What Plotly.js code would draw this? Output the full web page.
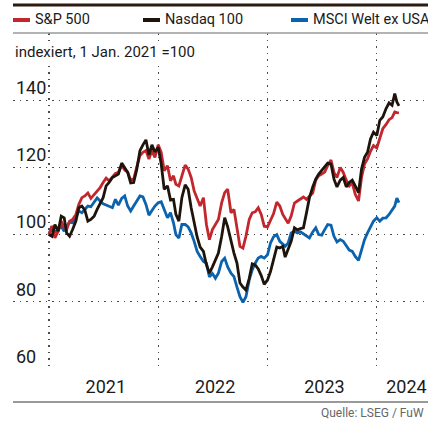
<!DOCTYPE html>
<html>
<head>
<meta charset="utf-8">
<script src="https://cdn.plot.ly/plotly-3.0.1.min.js"></script>
<style>
html,body{margin:0;padding:0;background:#fff;}
#chart{width:428px;height:427px;}
</style>
</head>
<body>
<div id="chart"></div>
<script>
const dates = [
'2021-01-01','2021-01-11','2021-01-21','2021-02-01','2021-02-11','2021-02-21','2021-03-01','2021-03-11','2021-03-21','2021-04-01','2021-04-11','2021-04-21',
'2021-05-01','2021-05-11','2021-05-21','2021-06-01','2021-06-11','2021-06-21','2021-07-01','2021-07-11','2021-07-21','2021-08-01','2021-08-11','2021-08-21',
'2021-09-01','2021-09-11','2021-09-21','2021-10-01','2021-10-11','2021-10-21','2021-11-01','2021-11-11','2021-11-21','2021-12-01','2021-12-11','2021-12-21',
'2022-01-01','2022-01-11','2022-01-21','2022-02-01','2022-02-11','2022-02-21','2022-03-01','2022-03-11','2022-03-21','2022-04-01','2022-04-11','2022-04-21',
'2022-05-01','2022-05-11','2022-05-21','2022-06-01','2022-06-11','2022-06-21','2022-07-01','2022-07-11','2022-07-21','2022-08-01','2022-08-11','2022-08-21',
'2022-09-01','2022-09-11','2022-09-21','2022-10-01','2022-10-11','2022-10-21','2022-11-01','2022-11-11','2022-11-21','2022-12-01','2022-12-11','2022-12-21',
'2023-01-01','2023-01-11','2023-01-21','2023-02-01','2023-02-11','2023-02-21','2023-03-01','2023-03-11','2023-03-21','2023-04-01','2023-04-11','2023-04-21',
'2023-05-01','2023-05-11','2023-05-21','2023-06-01','2023-06-11','2023-06-21','2023-07-01','2023-07-11','2023-07-21','2023-08-01','2023-08-11','2023-08-21',
'2023-09-01','2023-09-11','2023-09-21','2023-10-01','2023-10-11','2023-10-21','2023-11-01','2023-11-11','2023-11-21','2023-12-01','2023-12-11','2023-12-21',
'2024-01-01','2024-01-11','2024-01-21','2024-02-01','2024-02-11','2024-02-21','2024-03-01','2024-03-08','2024-03-15'
];
const sp500 = [
100,102.5,99,101,104,102,101.5,104,104.5,106,109,111,
111.5,112.4,110.8,112,113,114,115.5,116.8,116,117.2,118.2,118.5,
120.7,119.2,118.6,116.2,116.5,120,123.5,124.5,125,122.5,125,123,
126.7,124.5,119,120.5,116,117.5,115,114.5,117.5,120.7,119.5,117,
113,110.5,108.5,111,103,98.5,101.5,103,104.5,109.5,112.5,113.5,
106.5,107.5,101.5,96.5,96,99.5,104.5,106.5,106.8,108,106,102.5,
102.3,104.5,106.2,109.7,108.5,106,105,103.4,105.5,109.4,110,110.5,
111.2,110.5,111.5,112.4,116.2,117.5,118,118.6,120.5,122.2,118.5,117,
120,118.5,116.2,114.5,115.4,112,110,117,121,122.5,124.8,126.5,
125.8,129,131.5,132.8,134.2,134.8,136.5,136.3,136.2
];
const nasdaq100 = [
100,99.5,103,101,105.5,105,100.5,99.5,101.5,104,108,108.5,
107.3,104,104.5,105.5,107.5,109.5,111,114.5,115.5,117,117.5,118,
121.3,119.8,118.5,115.4,115.5,119.2,125,126.7,128.2,123.7,126.7,124.6,
126,121,113.5,114.5,110.3,110.5,106,104,111,114.8,113.5,108,
103.5,99.3,96.3,95,91,88.5,90.4,92.5,94.5,99.5,105,102.3,
98,94.5,91.5,85.6,84.4,83.5,87,91.3,91,89.8,87.8,85.2,
86.5,89,92.5,96.3,96,96.5,93.3,95.4,98,102,101.4,101.8,
102,106.4,111,114.2,116.5,118,119.2,120.3,121.3,121,116.5,114.2,
116.2,117,114.2,115.5,116.2,114.5,112.5,119.5,123,124.5,128.5,130.5,
129.5,134,135,137.5,139.2,138.5,142,139.5,138.3
];
const msciWorldExUsa = [
100,102.5,100.8,101.5,102.5,101,102.5,103.7,103.5,105.5,107,106.5,
107.5,108.5,108.3,109.5,110.9,110,109.2,108.8,108.5,108,110.5,108.8,
110.8,111.5,108.5,107,108.5,110,111.5,111.2,109,105.8,107.3,108.5,
109.5,109.8,107.5,105,106.5,103.5,100,99,103,103,102.3,100.5,
98,95,93.5,92,91.5,87.4,88.4,87,88.5,92,93,90.4,
88.5,87.5,84.4,81.5,79.8,81.5,86.5,89.5,91.5,93,93.5,93,
94,97.5,99.3,100,98,97,96.5,97.5,100.5,101,100.5,100.8,
100.2,99.5,99,100.8,102,100,99.8,101.5,103,102.8,99.5,97.8,
98.5,98,96.5,95.4,95,93.5,92.3,95.5,98.5,100.5,102.5,104,
105,104,104.9,105,106,107.3,108.5,110.9,109.5
];
const seriesNames = ['S&P 500','Nasdaq 100','MSCI Welt ex USA'];
const seriesColors = ['#c1272d','#1e140c','#0b63ae'];
const yTicks = [60,80,100,120,140];
const yearStarts = ['2021-01-01','2022-01-01','2023-01-01','2024-01-01'];
const yearLabelPos = ['2021-07-10','2022-07-10','2023-07-10','2024-04-09'];
const yearLabels = ['2021','2022','2023','2024'];

const FONT = 'Roboto, "Liberation Sans", sans-serif';
const W = 428, L = 13, R = 0, T = 33, B = 58, H = 427;
const pw = W - L - R, ph = H - T - B;
const px = x => (x - L) / pw;
const py = y => (H - B - y) / ph;

const allSeries = [sp500, nasdaq100, msciWorldExUsa];
const drawOrder = [2, 0, 1];
const traces = drawOrder.map(i => ({
  type: 'scatter', mode: 'lines', x: dates, y: allSeries[i], name: seriesNames[i],
  line: {color: seriesColors[i], width: 2.8, shape: 'linear'}, showlegend: false, hoverinfo: 'skip'
}));

const legendX = [13, 143, 291];
const shapes = [
  {type:'line', xref:'paper', yref:'paper', x0:0, x1:1.01, y0:py(5), y1:py(5), line:{color:'#2b1b10', width:3}},
  {type:'line', xref:'paper', yref:'paper', x0:0, x1:1.01, y0:py(33), y1:py(33), line:{color:'#9a9a9a', width:1.5}},
  {type:'line', xref:'paper', yref:'paper', x0:0, x1:1.01, y0:py(402), y1:py(402), line:{color:'#9a9a9a', width:2}}
];
const annotations = [];
legendX.forEach((lx, i) => {
  shapes.push({type:'line', xref:'paper', yref:'paper', x0:px(lx), x1:px(lx+17), y0:py(20), y1:py(20), line:{color:seriesColors[i], width:4}});
  annotations.push({xref:'paper', yref:'paper', x:px(lx+20), y:py(20), xanchor:'left', yanchor:'middle', showarrow:false,
    text:seriesNames[i], font:{family:FONT, size:14.5, color:'#1a1a1a'}});
});
annotations.push({xref:'paper', yref:'paper', x:0, y:py(52), xanchor:'left', yanchor:'middle', showarrow:false,
  bgcolor:'#ffffff', borderpad:1,
  text:'indexiert, 1 Jan. 2021 =100', font:{family:FONT, size:15, color:'#1a1a1a'}});
annotations.push({xref:'paper', yref:'paper', x:px(426), y:py(413), xanchor:'right', yanchor:'middle', showarrow:false,
  text:'Quelle: LSEG / FuW', font:{family:FONT, size:12, color:'#666666'}});

const layout = {
  width: W, height: H,
  margin: {l: L, r: R, t: T, b: B, pad: 0},
  paper_bgcolor: '#ffffff', plot_bgcolor: '#ffffff',
  showlegend: false,
  xaxis: {
    type: 'date', range: ['2020-09-03', '2024-06-20'],
    tickmode: 'array', tickvals: yearLabelPos, ticktext: yearLabels,
    showgrid: false, zeroline: false, showline: false, ticks: '',
    ticklabelstandoff: 5, ticklabeloverflow: 'allow',
    tickfont: {family: FONT, size: 18, color: '#1a1a1a'},
    minor: {tickmode: 'array', tickvals: yearStarts, showgrid: true, gridcolor: '#4a4a4a', gridwidth: 1.3, griddash: '1.5px,5px', ticks: ''},
    fixedrange: true
  },
  yaxis: {
    range: [60, 160], tickmode: 'array', tickvals: yTicks, ticktext: yTicks.map(String),
    showgrid: true, gridcolor: '#4a4a4a', gridwidth: 1.3, griddash: '1.5px,5px',
    zeroline: false, showline: false, ticks: '',
    ticklabelposition: 'inside top', ticklabeloverflow: 'allow',
    tickfont: {family: FONT, size: 18, color: '#1a1a1a'},
    fixedrange: true
  },
  shapes: shapes,
  annotations: annotations
};

Plotly.newPlot('chart', traces, layout, {displayModeBar: false, staticPlot: true});
</script>
</body>
</html>
